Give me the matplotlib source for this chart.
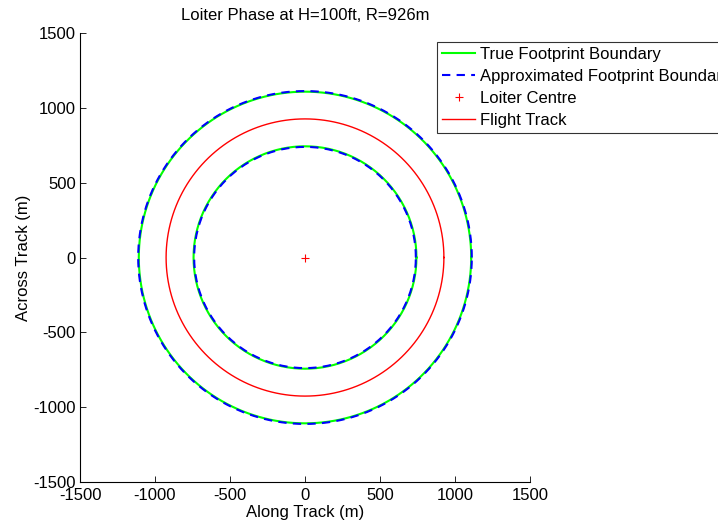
import numpy as np
import matplotlib
matplotlib.use("Agg")
from matplotlib import pyplot as plt

# loiter geometry (m)
centre = [0.0, 0.0]
track_radius = 926.0
true_radii = [743.0, 1108.0]
approx_radii = [739.0, 1112.0]

title = "Loiter Phase at H=100ft, R=926m"
ticks = [-1500, -1000, -500, 0, 500, 1000, 1500]

plt.rc('font', family='Liberation Sans', size=12)
plt.rc('axes', unicode_minus=False)

fig = plt.figure(figsize=(7.18, 5.25), dpi=100)
ax = fig.add_axes([80/718, 1-482/525, 450/718, 449/525])

th = np.linspace(0, 2*np.pi, 361)


def circle(r):
    return centre[0] + r*np.cos(th), centre[1] + r*np.sin(th)


for i, r in enumerate(true_radii):
    x, y = circle(r)
    ax.plot(x, y, color='#00ff00', lw=1.5,
            label="True Footprint Boundary" if i == 0 else None)
for i, r in enumerate(approx_radii):
    x, y = circle(r)
    ax.plot(x, y, color='#0000ff', lw=1.5, ls=(0, (4, 3)),
            label="Approximated Footprint Boundary" if i == 0 else None)
ax.plot(centre[0], centre[1], '+', color='red', ms=6, mew=0.8, label="Loiter Centre", ls='none')
x, y = circle(track_radius)
ax.plot(x, y, color='red', lw=1.0, label="Flight Track")

ax.set_xlim(-1500, 1500)
ax.set_ylim(-1500, 1500)
ax.set_xticks(ticks)
ax.set_yticks(ticks)
ax.tick_params(direction='in', length=4, width=0.6, labelsize=12, colors='black', pad=3)
ax.tick_params(axis='x', pad=4)
for s in ['top', 'right']:
    ax.spines[s].set_visible(False)
for s in ['left', 'bottom']:
    ax.spines[s].set_linewidth(0.8)
ax.set_xlabel("Along Track (m)", fontsize=12, labelpad=2)
ax.set_ylabel("Across Track (m)", fontsize=12, labelpad=2)
ax.set_title(title, fontsize=12, pad=9)

handles, labels = ax.get_legend_handles_labels()
leg = fig.legend(handles, labels, loc='upper left', bbox_to_anchor=(437/718, 1-42/525),
                 frameon=True, fancybox=False, edgecolor='black', fontsize=12,
                 handlelength=2.0, handletextpad=0.3, borderpad=0.3, labelspacing=0.42,
                 borderaxespad=0)
leg.get_frame().set_linewidth(0.8)

fig.savefig("out.png", dpi=100)
